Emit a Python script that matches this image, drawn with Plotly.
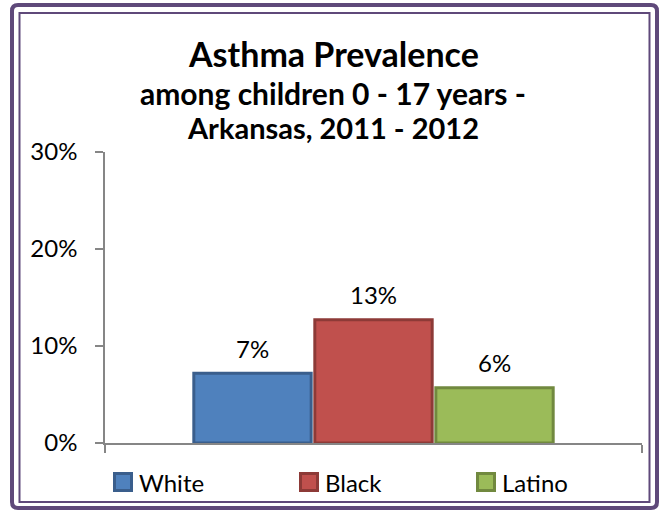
import plotly.graph_objects as go

# Asthma prevalence among children 0-17, Arkansas 2011-2012
groups = ["White", "Black", "Latino"]
prevalence = [0.072, 0.127, 0.057]
y_ticks = [0, 0.1, 0.2, 0.3]
y_tick_labels = ["0%", "10%", "20%", "30%"]

fills = ["#4F81BD", "#C0504D", "#9BBB59"]
edges = ["#3A5E8C", "#8D3A37", "#71893F"]

FONT = "Lato"
W, H = 660, 510
ML, MR, MT, MB = 105, 18, 152, 67
PW, PH = W - ML - MR, H - MT - MB


def fx(p):
    """pixel x -> paper x"""
    return (p - ML) / PW


def fy(p):
    """pixel y (from top) -> paper y"""
    return (H - MB - p) / PH


fig = go.Figure()
for i, (name, val) in enumerate(zip(groups, prevalence)):
    fig.add_trace(go.Bar(
        x=[i], y=[val], name=name, width=0.97,
        marker=dict(color=fills[i], line=dict(color=edges[i], width=3)),
        showlegend=False, hoverinfo="skip",
    ))

annotations = []
# value labels above each bar
for i, val in enumerate(prevalence):
    annotations.append(dict(
        x=i, y=val, xref="x", yref="y", text=f"{val:.0%}",
        showarrow=False, yanchor="middle", yshift=25,
        font=dict(family=FONT, size=24, color="#000000"),
    ))

# titles
titles = [("Asthma Prevalence", 34, 53), ("among children 0 - 17 years -", 30, 93),
          ("Arkansas, 2011 - 2012", 29, 127)]
for text, size, py in titles:
    annotations.append(dict(
        x=fx(333), y=fy(py), xref="paper", yref="paper", text=f"<b>{text}</b>",
        showarrow=False, xanchor="center", yanchor="middle",
        font=dict(family=FONT, size=size, color="#000000"),
    ))

shapes = []
# legend: swatch + label
legend_x = [113, 299, 476]
legend_y = 482
for i, name in enumerate(groups):
    x0 = legend_x[i]
    shapes.append(dict(
        type="rect", xref="paper", yref="paper",
        x0=fx(x0 + 1.5), x1=fx(x0 + 18.5), y0=fy(legend_y + 8.5), y1=fy(legend_y - 8.5),
        fillcolor=fills[i], line=dict(color=edges[i], width=3),
    ))
    annotations.append(dict(
        x=fx(x0 + 24), y=fy(legend_y), xref="paper", yref="paper", text=name,
        showarrow=False, xanchor="left", yanchor="middle",
        font=dict(family=FONT, size=24, color="#000000"),
    ))

# double frame around the chart
frame = "#5F497A"


def rounded(x0, y0, x1, y1, r):
    ax, ay = r / PW, r / PH
    X0, X1, Y0, Y1 = fx(x0), fx(x1), fy(y0), fy(y1)
    return (f"M{X0 + ax},{Y0} L{X1 - ax},{Y0} Q{X1},{Y0} {X1},{Y0 - ay} "
            f"L{X1},{Y1 + ay} Q{X1},{Y1} {X1 - ax},{Y1} L{X0 + ax},{Y1} "
            f"Q{X0},{Y1} {X0},{Y1 + ay} L{X0},{Y0 - ay} Q{X0},{Y0} {X0 + ax},{Y0} Z")


shapes.append(dict(type="path", xref="paper", yref="paper",
                   path=rounded(12, 5, 657, 508, 6), line=dict(color=frame, width=4)))
shapes.append(dict(type="rect", xref="paper", yref="paper",
                   x0=fx(19.5), x1=fx(649.5), y0=fy(502), y1=fy(13),
                   line=dict(color=frame, width=2)))

fig.update_layout(
    width=W, height=H,
    margin=dict(l=ML, r=MR, t=MT, b=MB),
    paper_bgcolor="#FFFFFF", plot_bgcolor="#FFFFFF",
    font=dict(family=FONT, size=24, color="#000000"),
    barmode="overlay",
    annotations=annotations,
    shapes=shapes,
    xaxis=dict(
        range=[-1.219, 3.219], showgrid=False, zeroline=False,
        showline=True, linecolor="#868686", linewidth=1.5,
        tickmode="array", tickvals=[-1.219, 3.219], ticktext=["", ""],
        ticks="outside", ticklen=8, tickcolor="#868686", tickwidth=1.5,
        fixedrange=True,
    ),
    yaxis=dict(
        range=[0, 0.3], showgrid=False, zeroline=False,
        showline=True, linecolor="#868686", linewidth=1.5,
        tickmode="array", tickvals=y_ticks, ticktext=y_tick_labels,
        ticks="outside", ticklen=8, tickcolor="#868686", tickwidth=1.5,
        ticklabelstandoff=13,
        tickfont=dict(family=FONT, size=24, color="#000000"),
        fixedrange=True,
    ),
)

fig.write_html("out.html", config={"displayModeBar": False})
